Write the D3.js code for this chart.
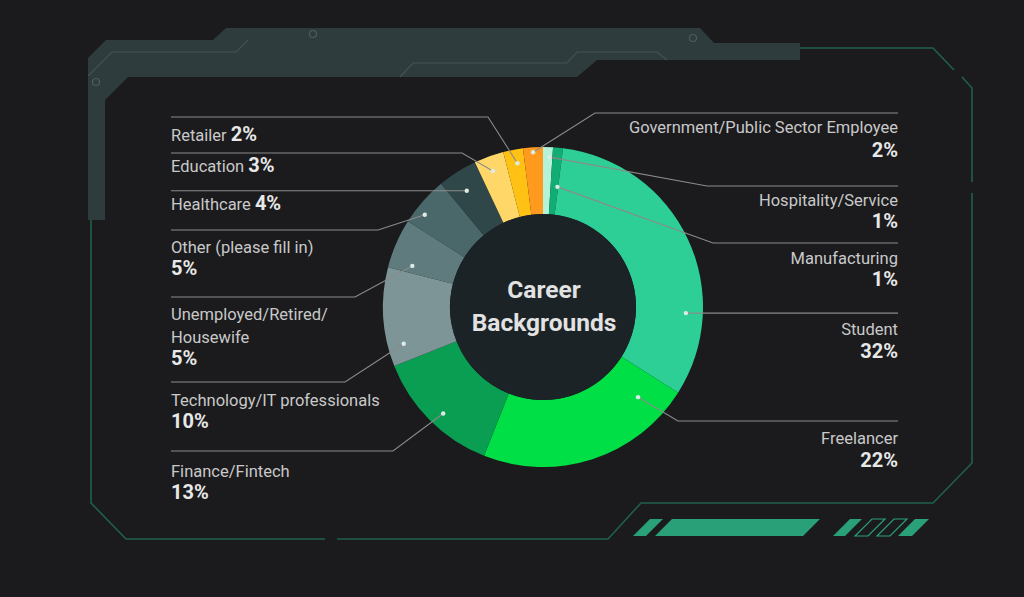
<!DOCTYPE html>
<html><head><meta charset="utf-8">
<script src="https://cdn.jsdelivr.net/npm/d3@7"></script>
<style>
html,body{margin:0;padding:0;background:#1b1b1d;}
svg{display:block;}
text{font-family:Roboto,"Noto Sans",sans-serif;}
</style></head><body>
<svg id="chart" width="1024" height="597"></svg>
<script>
// ---------- data ----------
const categories = ["Hospitality/Service","Manufacturing","Student","Freelancer","Finance/Fintech",
  "Technology/IT professionals","Unemployed/Retired/Housewife","Other (please fill in)",
  "Healthcare","Education","Retailer","Government/Public Sector Employee"];
const values = [1,1,32,22,13,10,5,5,4,3,2,2];
const colors = ["#b4f3d8","#10ad74","#2dcf97","#00df46","#0a9e53","#7d9597",
  "#5f7b7d","#4a6769","#2f4749","#ffd769","#ffc113","#ff9a1e"];
const centerTitle = ["Career","Backgrounds"];

// ---------- layout (label placement) ----------
const layout = [
  {side:"R", lineY:186, elbowX:707, textY:[206,228], frac:0.7,  r:150},
  {side:"R", lineY:243, elbowX:713, textY:[264,286], frac:0.9,  r:121},
  {side:"R", lineY:null,elbowX:null,textY:[335,358], frac:0.74, r:143},
  {side:"R", lineY:421, elbowX:678, textY:[444,467], frac:0.14, r:131},
  {side:"L", lineY:451, elbowX:393, textY:[477,499], frac:0.46, r:146},
  {side:"L", lineY:382, elbowX:345, textY:[406,428], frac:0.19, r:144},
  {side:"L", lineY:297, elbowX:355, textY:[320,343,365], frac:0.17, r:137, wrap:["Unemployed/Retired/","Housewife"]},
  {side:"L", lineY:230, elbowX:378, textY:[253,275], frac:0.31, r:150},
  {side:"L", lineY:null,elbowX:null,textY:[210], frac:0.44, r:139, inline:true},
  {side:"L", lineY:153, elbowX:462, textY:[172], frac:0.46, r:145, inline:true},
  {side:"L", lineY:117, elbowX:488, textY:[141], frac:0.6,  r:146, inline:true},
  {side:"R", lineY:113, elbowX:595, textY:[133,157], frac:0.49, r:155}
];
const cx = 543, cy = 307, rOuter = 160, rInner = 93;
const leftX = 171, rightX = 898;

const svg = d3.select("#chart");
svg.append("rect").attr("width",1024).attr("height",597).attr("fill","#1b1b1d");

// ---------- frame decoration ----------
const deco = svg.append("g");
deco.append("path")
  .attr("d","M88,220 L88,58 L106,40 L213,40 L226,28 L700,28 L714,43 L800,43 L800,60 L597,60 L577,77 L128,77 L105,100 L105,220 Z")
  .attr("fill","#2f3c3e");
deco.append("path")
  .attr("d","M88,76 L112,52 L236,52 L248,40 M400,77 L413,63 L567,63 L577,52 L657,52 L667,60")
  .attr("fill","none").attr("stroke","#435254").attr("stroke-width",1.2);
[[96,82],[313,34],[693,38]].forEach(p=>{
  deco.append("circle").attr("cx",p[0]).attr("cy",p[1]).attr("r",3.5)
    .attr("fill","none").attr("stroke","#4d5c5e").attr("stroke-width",1.2);
});
deco.append("path")
  .attr("d","M91,220 L91,503 L126,539 L325,539 M337,539 L608,539 L641,503 L933,503 L972,463 L972,193 M972,182 L972,88 L962,77 M954,70 L933,48 L800,48")
  .attr("fill","none").attr("stroke","#20604a").attr("stroke-width",1.6);
const para = (x0,x1,y0,y1,filled)=>{
  const s = y1-y0;
  deco.append("path")
    .attr("d",`M${x0},${y1} L${x0+s},${y0} L${x1+s},${y0} L${x1},${y1} Z`)
    .attr("fill",filled?"#29a078":"none")
    .attr("stroke","#29a078").attr("stroke-width",filled?0:1.2);
};
para(633,646,519,536,true);
para(655,803,519,536,true);
para(833,845,519,536,true);
para(855,868,519,536,false);
para(877,890,519,536,false);
para(898,912,519,536,true);

// ---------- donut ----------
const pie = d3.pie().sort(null).value(d=>d)(values);
const arc = d3.arc().innerRadius(rInner).outerRadius(rOuter);
const g = svg.append("g").attr("transform",`translate(${cx},${cy})`);
g.selectAll("path.slice").data(pie).join("path")
  .attr("class","slice").attr("d",arc).attr("fill",(d,i)=>colors[i]);
g.append("circle").attr("r",rInner).attr("fill","#1b2326");
g.append("text").attr("text-anchor","middle").attr("fill","#e2e2e2")
  .attr("font-size",24.5).attr("font-weight",700)
  .selectAll("tspan").data(centerTitle).join("tspan")
  .attr("x",1).attr("y",(d,i)=>-9+i*33).text(d=>d);

// ---------- leaders & labels ----------
const lg = svg.append("g");
pie.forEach((d,i)=>{
  const L = layout[i];
  const th = d.startAngle + L.frac*(d.endAngle-d.startAngle);
  const dx = cx + L.r*Math.sin(th), dy = cy - L.r*Math.cos(th);
  const ly = L.lineY==null ? dy : L.lineY;
  const ex = L.elbowX==null ? dx : L.elbowX;
  const endX = L.side==="L" ? leftX : rightX;
  lg.append("path").attr("d",`M${dx},${dy} L${ex},${ly} L${endX},${ly}`)
    .attr("fill","none").attr("stroke","#8b8b8b").attr("stroke-width",1.1);
  lg.append("circle").attr("cx",dx).attr("cy",dy).attr("r",2.2).attr("fill","#dcebe6");

  const pct = values[i] + "%";
  const anchor = L.side==="L" ? "start" : "end";
  const tx = L.side==="L" ? leftX : rightX;
  if(L.inline){
    const t = lg.append("text").attr("x",tx).attr("y",L.textY[0]).attr("text-anchor",anchor);
    t.append("tspan").attr("fill","#c9c9c9").attr("font-size",16.5).text(categories[i]+" ");
    t.append("tspan").attr("fill","#e8e8e8").attr("font-size",20).attr("font-weight",700).text(pct);
  } else {
    const lines = L.wrap || [categories[i]];
    lines.forEach((s,k)=>{
      lg.append("text").attr("x",tx).attr("y",L.textY[k]).attr("text-anchor",anchor)
        .attr("fill","#c9c9c9").attr("font-size",16.5).text(s);
    });
    lg.append("text").attr("x",tx).attr("y",L.textY[lines.length]).attr("text-anchor",anchor)
      .attr("fill","#e8e8e8").attr("font-size",20).attr("font-weight",700).text(pct);
  }
});
</script>
</body></html>
